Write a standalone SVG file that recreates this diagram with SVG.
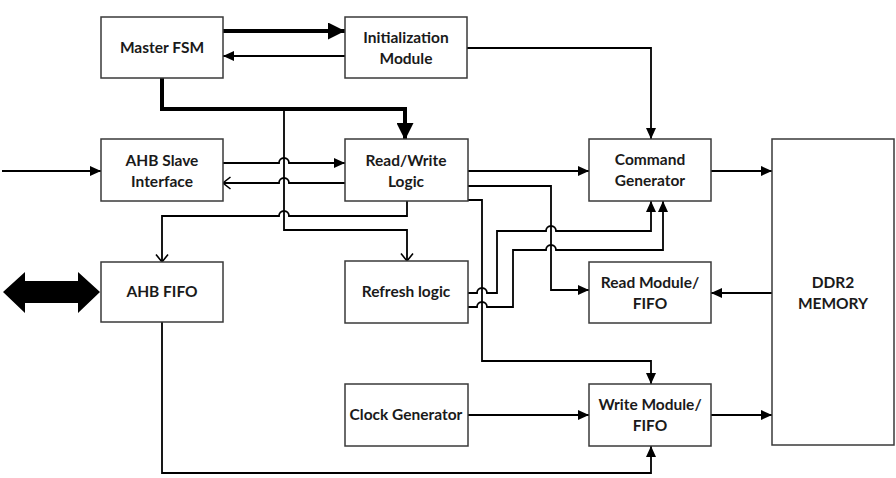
<svg xmlns="http://www.w3.org/2000/svg" width="896" height="478" viewBox="0 0 896 478">
<style>
.box{fill:#fff;stroke:#3a3a3a;stroke-width:1.5}
.t{font-family:Lato,"Liberation Sans",sans-serif;font-weight:bold;font-size:15.5px;fill:#1a1a1a;text-anchor:middle}
.c{fill:none;stroke:#000;stroke-width:1.8}
.k{fill:none;stroke:#000;stroke-width:4}
</style>
<defs>
<marker id="a" markerUnits="userSpaceOnUse" markerWidth="12" markerHeight="10" refX="11" refY="5" orient="auto"><path d="M0,0 L11,5 L0,10 z" fill="#000"/></marker>
<marker id="ak" markerUnits="userSpaceOnUse" markerWidth="18" markerHeight="17" refX="17" refY="8.5" orient="auto"><path d="M0,0 L17,8.5 L0,17 z" fill="#000"/></marker>
<marker id="o" markerUnits="userSpaceOnUse" markerWidth="10" markerHeight="14" refX="8.5" refY="7" orient="auto"><path d="M1,1 L8.5,7 L1,13" fill="none" stroke="#000" stroke-width="1.6"/></marker>
</defs>
<g id="connectors">
<path class="k" d="M223,31 H345" marker-end="url(#ak)"/>
<path class="c" d="M345,56 H223" marker-end="url(#a)"/>
<path class="k" d="M162,78 V109 H405 V140" marker-end="url(#ak)"/>
<path class="c" d="M284,109 V230 H407 V261" marker-end="url(#o)"/>
<path class="c" d="M2,171 H101" marker-end="url(#a)"/>
<path class="c" d="M223,163 H279 a5,5 0 0 1 10,0 H345" marker-end="url(#a)"/>
<path class="c" d="M345,183 H289 a5,5 0 0 0 -10,0 H223" marker-end="url(#o)"/>
<path class="c" d="M407,201 V216 H289 a5,5 0 0 0 -10,0 H162 V262" marker-end="url(#o)"/>
<path class="c" d="M467,48 H651 V139" marker-end="url(#a)"/>
<path class="c" d="M468,171 H589" marker-end="url(#a)"/>
<path class="c" d="M468,186 H551 V290 H589" marker-end="url(#a)"/>
<path class="c" d="M468,200 H482 V361 H651 V384" marker-end="url(#a)"/>
<path class="c" d="M468,293 H477 a5,5 0 0 1 10,0 H497 V231 H546 a5,5 0 0 1 10,0 H651 V201" marker-end="url(#a)"/>
<path class="c" d="M468,307 H477 a5,5 0 0 1 10,0 H513 V250 H546 a5,5 0 0 1 10,0 H663 V201" marker-end="url(#a)"/>
<path class="c" d="M162,322 V473 H651 V446" marker-end="url(#a)"/>
<path class="c" d="M468,415 H589" marker-end="url(#a)"/>
<path class="c" d="M711,171 H772" marker-end="url(#a)"/>
<path class="c" d="M772,293 H711" marker-end="url(#a)"/>
<path class="c" d="M711,415 H772" marker-end="url(#a)"/>
<polygon points="3,292 25,272 25,281 78,281 78,272 100,292 78,313 78,303 25,303 25,313" fill="#000"/>
</g>
<g id="master-fsm"><rect class="box" x="101" y="17" width="122" height="61"/><text class="t" x="162" y="53">Master FSM</text></g>
<g id="init-module"><rect class="box" x="345" y="17" width="122" height="61"/><text class="t" x="406" y="43">Initialization</text><text class="t" x="406" y="64">Module</text></g>
<g id="ahb-slave"><rect class="box" x="101" y="139" width="122" height="62"/><text class="t" x="162" y="166">AHB Slave</text><text class="t" x="162" y="187">Interface</text></g>
<g id="rw-logic"><rect class="box" x="345" y="139" width="123" height="62"/><text class="t" x="406" y="166">Read/Write</text><text class="t" x="406" y="187">Logic</text></g>
<g id="cmd-gen"><rect class="box" x="589" y="139" width="122" height="62"/><text class="t" x="650" y="165">Command</text><text class="t" x="650" y="186">Generator</text></g>
<g id="ahb-fifo"><rect class="box" x="101" y="262" width="122" height="60"/><text class="t" x="162" y="297">AHB FIFO</text></g>
<g id="refresh"><rect class="box" x="345" y="261" width="123" height="62"/><text class="t" x="406" y="297">Refresh logic</text></g>
<g id="read-module"><rect class="box" x="589" y="262" width="122" height="61"/><text class="t" x="650" y="288">Read Module/</text><text class="t" x="650" y="309">FIFO</text></g>
<g id="clock-gen"><rect class="box" x="345" y="384" width="123" height="62"/><text class="t" x="406" y="420">Clock Generator</text></g>
<g id="write-module"><rect class="box" x="589" y="384" width="122" height="62"/><text class="t" x="650" y="410">Write Module/</text><text class="t" x="650" y="431">FIFO</text></g>
<g id="ddr2"><rect class="box" x="772" y="139" width="122" height="306"/><text class="t" x="833" y="288">DDR2</text><text class="t" x="833" y="309">MEMORY</text></g>
</svg>
